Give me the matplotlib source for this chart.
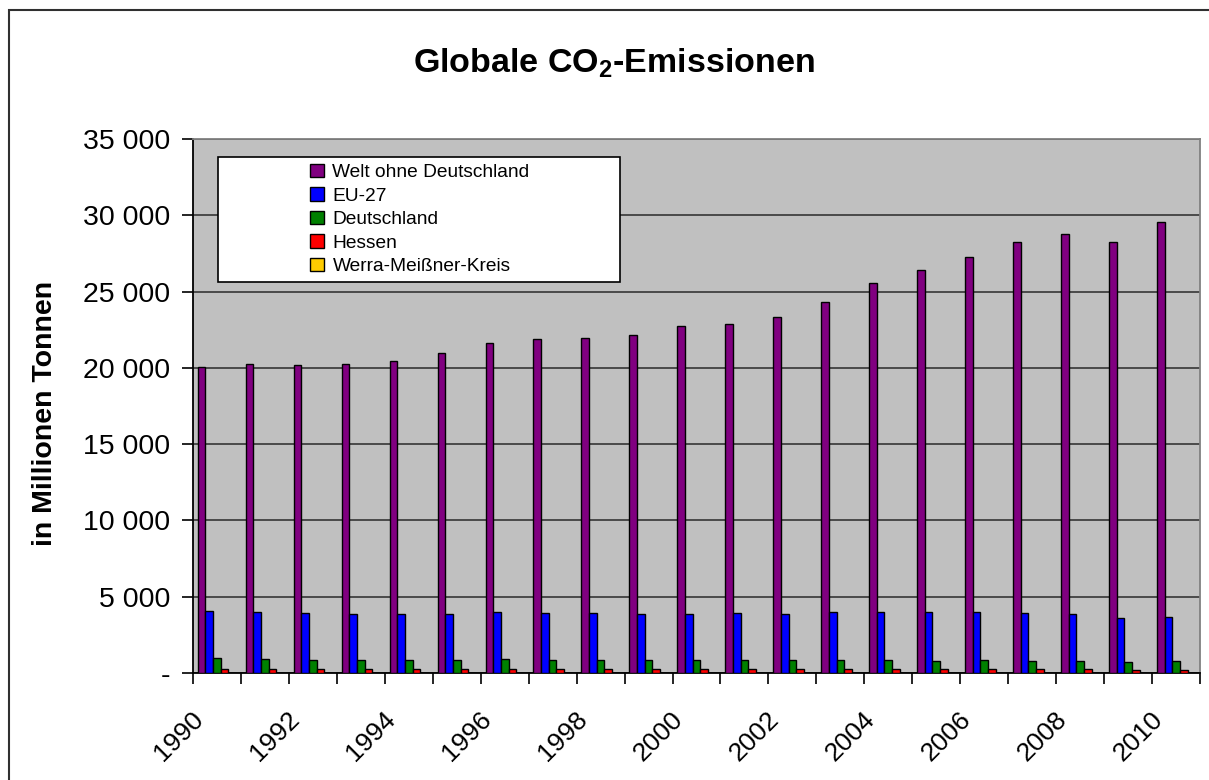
import numpy as np
import matplotlib
matplotlib.use('Agg')
import matplotlib.pyplot as plt
from matplotlib.patches import Rectangle
from matplotlib.ticker import FuncFormatter

plt.rcParams['font.family'] = ['Liberation Sans', 'DejaVu Sans']

years = list(range(1990, 2011))
welt = [20040, 20270, 20190, 20270, 20430, 20990, 21650, 21890, 21980, 22150, 22720,
        22900, 23310, 24340, 25560, 26390, 27290, 28270, 28770, 28250, 29560]
eu27 = [4095, 4010, 3940, 3880, 3880, 3880, 4010, 3940, 3940, 3880, 3880,
        3940, 3880, 4010, 4010, 4010, 4010, 3920, 3860, 3590, 3680]
deutschland = [960, 900, 880, 880, 870, 870, 890, 870, 860, 830, 830,
               840, 830, 830, 820, 810, 820, 810, 810, 740, 760]
hessen = [240, 235, 235, 235, 235, 235, 240, 235, 235, 230, 230,
          235, 230, 230, 230, 230, 230, 230, 230, 220, 225]
werra = [2, 2, 2, 2, 2, 2, 2, 2, 2, 2, 2, 2, 2, 2, 2, 2, 2, 2, 2, 2, 2]

series = [
    (welt, 'Welt ohne Deutschland', '#800080'),
    (eu27, 'EU-27', '#0000FF'),
    (deutschland, 'Deutschland', '#008000'),
    (hessen, 'Hessen', '#FF0000'),
    (werra, 'Werra-Meißner-Kreis', '#FFCC00'),
]

fig = plt.figure(figsize=(12.09, 7.80), dpi=100)
ax = fig.add_axes([193 / 1209, 1 - 673 / 780, (1200 - 193) / 1209, (673 - 139) / 780])
ax.set_facecolor('#C0C0C0')

x = np.arange(len(years))
w = 0.16
for i, (vals, lab, col) in enumerate(series):
    ax.bar(x + (i - 2) * w, vals, w, color=col, edgecolor='black', linewidth=1.0,
           label=lab, zorder=3)

ax.set_xlim(-0.5, len(years) - 0.5)
ax.set_ylim(0, 35000)
ax.set_yticks(np.arange(0, 35001, 5000))
ax.yaxis.set_major_formatter(FuncFormatter(
    lambda v, p: '-' if v == 0 else '{:,.0f}'.format(v).replace(',', ' ')))
ax.grid(axis='y', color='#404040', linewidth=1.3, zorder=1)
ax.set_axisbelow(True)

# category ticks between groups, labels every second year
# (label anchors sit a bit left of the group centre, like the original)
ax.set_xticks(np.arange(-0.5, len(years), 1.0), minor=True)
ax.set_xticks(x[::2] - 0.36)
ax.set_xticklabels([str(y) for y in years[::2]], rotation=45, ha='right',
                   va='center', rotation_mode='anchor', fontsize=19)
ax.tick_params(axis='x', which='major', length=0, pad=30.5)
ax.tick_params(axis='x', which='minor', length=8, width=1.2, color='black')
ax.tick_params(axis='y', length=8, width=1.2, labelsize=20.5, pad=8.5)

for s in ['left', 'bottom']:
    ax.spines[s].set_color('black')
    ax.spines[s].set_linewidth(1.3)
for s in ['top', 'right']:
    ax.spines[s].set_color('#808080')
    ax.spines[s].set_linewidth(1.3)

ax.set_ylabel('in Millionen Tonnen', fontsize=20.5, fontweight='bold')
ax.yaxis.set_label_coords((58 - 193) / 1007, (673 - 413) / 534)
fig.text(614 / 1209, 1 - 72 / 780, 'Globale CO$_\\mathregular{2}$-Emissionen', ha='center',
         va='baseline', fontsize=24.5, fontweight='bold')

# legend box with centred entries
lx0, ly0 = (218 - 193) / 1007, (673 - 282) / 534
lw_, lh_ = (620 - 218) / 1007, (282 - 157) / 534
ax.add_patch(Rectangle((lx0, ly0), lw_, lh_, transform=ax.transAxes, facecolor='white',
                       edgecolor='black', linewidth=1.2, zorder=5))
leg = ax.legend(loc='center', bbox_to_anchor=(lx0 + lw_ / 2 + 0.001, ly0 + lh_ / 2),
                fontsize=13.8, frameon=False,
                handlelength=0.7, handleheight=0.7, handletextpad=0.45,
                labelspacing=0.32, borderaxespad=0, borderpad=0)
leg.set_zorder(6)

# outer chart frame
fig.patches.append(Rectangle((9 / 1209, -0.1), 1.2, 1 - 10 / 780 + 0.1,
                             transform=fig.transFigure, fill=False,
                             edgecolor='#303030', linewidth=1.5))

fig.savefig('out.png', dpi=100)
